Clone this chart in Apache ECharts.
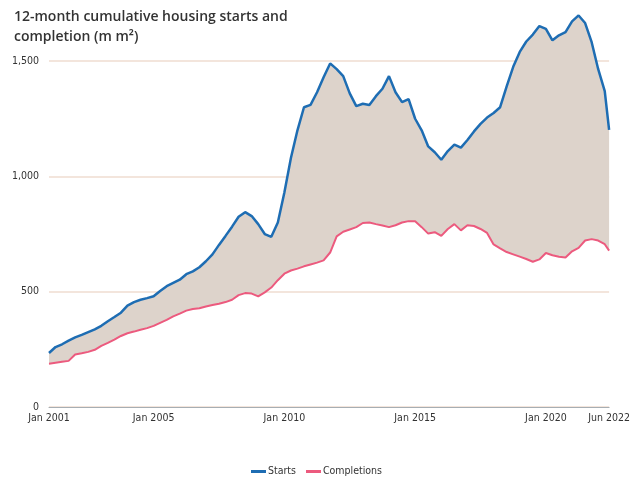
<!DOCTYPE html>
<html>
<head>
<meta charset="utf-8">
<script src="https://cdn.jsdelivr.net/npm/echarts@6/dist/echarts.min.js"></script>
<style>
  html, body { margin: 0; padding: 0; background: #fff; }
  #chart { width: 633px; height: 484px; }
</style>
</head>
<body>
<div id="chart"></div>
<script>
// quarterly readings, Jan 2001 .. Apr 2022, plus the last month (Jun 2022)
const dates = [
  "2001-01", "2001-04", "2001-07", "2001-10",
  "2002-01", "2002-04", "2002-07", "2002-10",
  "2003-01", "2003-04", "2003-07", "2003-10",
  "2004-01", "2004-04", "2004-07", "2004-10",
  "2005-01", "2005-04", "2005-07", "2005-10",
  "2006-01", "2006-04", "2006-07", "2006-10",
  "2007-01", "2007-04", "2007-07", "2007-10",
  "2008-01", "2008-04", "2008-07", "2008-10",
  "2009-01", "2009-04", "2009-07", "2009-10",
  "2010-01", "2010-04", "2010-07", "2010-10",
  "2011-01", "2011-04", "2011-07", "2011-10",
  "2012-01", "2012-04", "2012-07", "2012-10",
  "2013-01", "2013-04", "2013-07", "2013-10",
  "2014-01", "2014-04", "2014-07", "2014-10",
  "2015-01", "2015-04", "2015-07", "2015-10",
  "2016-01", "2016-04", "2016-07", "2016-10",
  "2017-01", "2017-04", "2017-07", "2017-10",
  "2018-01", "2018-04", "2018-07", "2018-10",
  "2019-01", "2019-04", "2019-07", "2019-10",
  "2020-01", "2020-04", "2020-07", "2020-10",
  "2021-01", "2021-04", "2021-07", "2021-10",
  "2022-01", "2022-04", "2022-06"
]

const starts = [
  234, 260, 272, 288,
  302, 313, 325, 337,
  352, 372, 390, 409,
  440, 455, 465, 472,
  480, 503, 524, 538,
  552, 576, 588, 606,
  632, 662, 703, 742,
  782, 825, 845, 828,
  793, 750, 738, 800,
  930, 1080, 1200, 1300,
  1310, 1365, 1430, 1490,
  1465, 1435, 1360, 1305,
  1315, 1310, 1348, 1380,
  1435, 1365, 1322, 1335,
  1250, 1200, 1130, 1105,
  1072, 1110, 1138, 1125,
  1158, 1195, 1228, 1255,
  1275, 1300, 1390, 1475,
  1540, 1585, 1615, 1652,
  1640, 1590, 1612, 1626,
  1672, 1698, 1665, 1582,
  1465, 1370, 1202
]

const completions = [
  188, 192, 196, 200,
  228, 233, 239, 248,
  265, 278, 292, 308,
  320, 327, 335, 342,
  352, 365, 378, 393,
  405, 418, 425, 428,
  436, 442, 448, 455,
  465, 485, 494, 492,
  480, 497, 518, 550,
  578, 592, 600, 610,
  618, 626, 636, 670,
  740, 760, 770, 780,
  798, 800, 793, 787,
  780, 788, 800, 806,
  805, 780, 752, 758,
  742, 772, 793, 766,
  788, 785, 772, 755,
  705, 688, 672, 662,
  652, 642, 630, 640,
  668, 658, 652, 648,
  675, 690, 722, 728,
  722, 706, 678
]

const tickDates = ["2001-01", "2005-01", "2010-01", "2015-01", "2020-01", "2022-06"]
const yTicks = [0, 500, 1000, 1500]
const monthNames = ["Jan", "Feb", "Mar", "Apr", "May", "Jun", "Jul", "Aug", "Sep", "Oct", "Nov", "Dec"]

// months since Jan 2001
function monthIdx(s) {
  const [y, m] = s.split("-").map(Number)
  return (y - 2001) * 12 + (m - 1)
}
const narrow = "'DejaVu Sans Condensed', 'DejaVu Sans', sans-serif"

// value first so the stack goes on y; x comes from dim 1
const pairs = (vals) => dates.map((d, i) => [vals[i], monthIdx(d)])
const gap = starts.map((v, i) => v - completions[i])

const chart = echarts.init(document.getElementById("chart"))

const option = {
  backgroundColor: "#fff",
  animation: false,
  title: {
    text: "12-month cumulative housing starts and\ncompletion (m m²)",
    left: 9,
    top: 2,
    textStyle: {
      fontFamily: "'Open Sans', sans-serif",
      fontSize: 14,
      fontWeight: 600,
      color: "#333",
      lineHeight: 20,
    },
  },
  legend: {
    bottom: 2,
    left: "center",
    itemWidth: 15,
    itemHeight: 3,
    itemGap: 10,
    icon: "rect",
    data: ["Starts", "Completions"],
    textStyle: { fontFamily: narrow, fontSize: 10.5, color: "#333", padding: [0, 0, 0, -3] },
  },
  grid: { left: 49, right: 21, top: 0, bottom: 77 },
  xAxis: {
    type: "value",
    min: monthIdx(tickDates[0]),
    max: monthIdx(tickDates[tickDates.length - 1]),
    axisLine: { lineStyle: { color: "#a7aeb3", width: 1 } },
    axisTick: { show: false },
    splitLine: { show: false },
    axisLabel: {
      customValues: tickDates.map(monthIdx),
      margin: 6,
      fontFamily: narrow,
      fontSize: 10.5,
      color: "#333",
      formatter: function (v) {
        return monthNames[v % 12] + " " + (2001 + Math.floor(v / 12))
      },
    },
  },
  yAxis: {
    type: "value",
    min: 0,
    max: 1765,
    interval: 500,
    axisLine: { show: false },
    axisTick: { show: false },
    splitLine: { showMaxLine: false, lineStyle: { color: "#efddd1", width: 1.5 } },
    axisLabel: {
      margin: 10,
      showMaxLabel: false,
      fontFamily: narrow,
      fontSize: 10.5,
      color: "#333",
      formatter: function (v) {
        return yTicks.includes(v) ? v.toLocaleString("en-US") : ""
      },
    },
  },
  series: [
    {
      name: "base",
      type: "line",
      stack: "band",
      data: pairs(completions),
      encode: { x: 1, y: 0 },
      symbol: "none",
      lineStyle: { opacity: 0 },
      silent: true,
    },
    {
      name: "band",
      type: "line",
      stack: "band",
      data: pairs(gap),
      encode: { x: 1, y: 0 },
      symbol: "none",
      lineStyle: { opacity: 0 },
      areaStyle: { color: "#ddd3cb", opacity: 1 },
      silent: true,
    },
    {
      name: "Completions",
      type: "line",
      data: pairs(completions),
      encode: { x: 1, y: 0 },
      symbol: "none",
      color: "#ec5a7e",
      lineStyle: { width: 2, color: "#ec5a7e" },
    },
    {
      name: "Starts",
      type: "line",
      data: pairs(starts),
      encode: { x: 1, y: 0 },
      symbol: "none",
      color: "#1e6db3",
      lineStyle: { width: 2.5, color: "#1e6db3" },
    },
  ],
}

chart.setOption(option)
</script>
</body>
</html>
